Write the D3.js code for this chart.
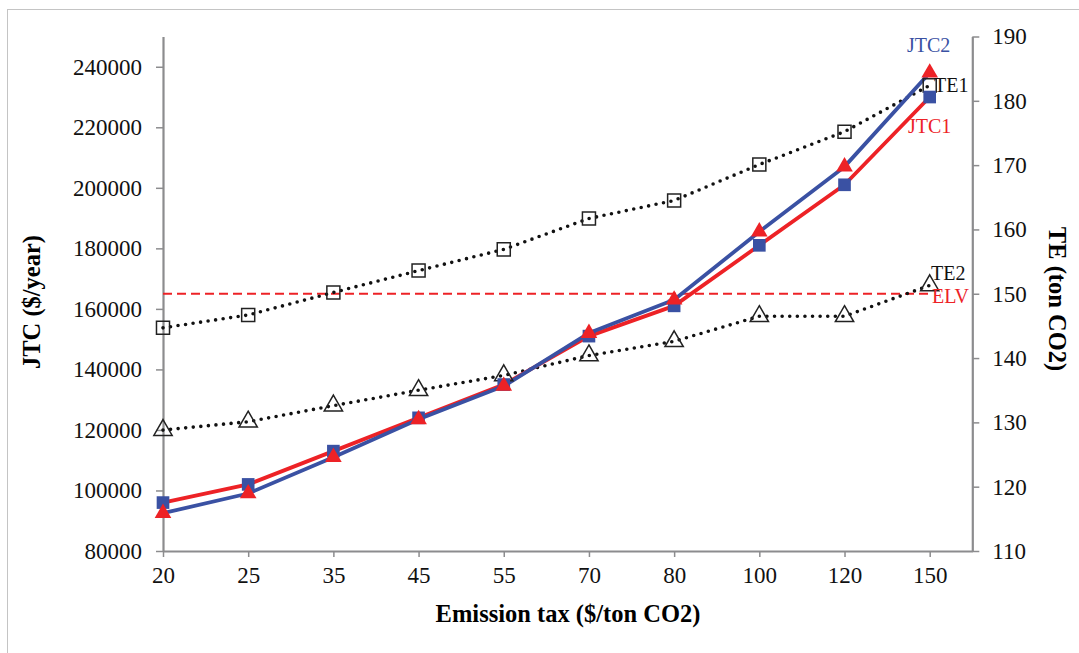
<!DOCTYPE html>
<html>
<head>
<meta charset="utf-8">
<script src="https://cdn.jsdelivr.net/npm/d3@7/dist/d3.min.js"></script>
<style>
  html, body { margin: 0; padding: 0; background: #fff; }
  svg { display: block; }
</style>
</head>
<body>
<svg id="chart" width="1079" height="653"></svg>
<script>
// Emission tax levels ($/ton CO2)
const taxes = [20, 25, 35, 45, 55, 70, 80, 100, 120, 150];
// Joint total cost ($/year)
const jtc1 = [96000, 102000, 113000, 124000, 135000, 151000, 161000, 181000, 201000, 230000];
const jtc2 = [92500, 99000, 111000, 123500, 134500, 152000, 163000, 185500, 207000, 238000];
// Total emissions (ton CO2)
const te1 = [144.7, 146.7, 150.2, 153.6, 156.9, 161.7, 164.5, 170.1, 175.2, 182.4];
const te2 = [128.8, 130.1, 132.6, 135.0, 137.3, 140.4, 142.6, 146.5, 146.5, 151.3];
// Emission limit value (ton CO2)
const elv = 150;
const leftTicks = [80000, 100000, 120000, 140000, 160000, 180000, 200000, 220000, 240000];
const rightTicks = [110, 120, 130, 140, 150, 160, 170, 180, 190];

const RED = "#ed2226";
const BLUE = "#3a51a3";
const AXIS = "#8c8c8e";
const SERIF = "'Liberation Serif', 'Times New Roman', serif";

const svg = d3.select("#chart").attr("font-family", SERIF);
const x0 = 163, x1 = 972.3, yTop = 36.5, yBot = 551;

// outer chart frame
svg.append("rect")
  .attr("x", 7.5).attr("y", 9.5).attr("width", 1200).attr("height", 800)
  .attr("fill", "none").attr("stroke", "#c4c4c4").attr("stroke-width", 1);

const x = d3.scaleLinear().domain([0, taxes.length - 0.5]).range([x0, x1]);
const yL = d3.scaleLinear().domain([80000, 250000]).range([yBot, yTop]);
const yR = d3.scaleLinear().domain([110, 190]).range([yBot, yTop]);

function styleAxis(g) {
  g.attr("font-family", SERIF).attr("font-size", 23);
  g.select(".domain").attr("stroke", AXIS).attr("stroke-width", 2.2);
  g.selectAll(".tick line").attr("stroke", AXIS).attr("stroke-width", 1.5);
  g.selectAll(".tick text").attr("fill", "#111");
}

// bottom axis
svg.append("g").attr("transform", `translate(0,${yBot})`)
  .call(d3.axisBottom(x).tickValues(d3.range(taxes.length))
    .tickFormat(i => taxes[i]).tickSize(6).tickSizeOuter(0).tickPadding(10))
  .call(styleAxis);

// left axis
svg.append("g").attr("transform", `translate(${x0},0)`)
  .call(d3.axisLeft(yL).tickValues(leftTicks).tickFormat(d3.format("d"))
    .tickSize(7).tickSizeOuter(0).tickPadding(14))
  .call(styleAxis);

// right axis
svg.append("g").attr("transform", `translate(${x1},0)`)
  .call(d3.axisRight(yR).tickValues(rightTicks).tickFormat(d3.format("d"))
    .tickSize(7).tickSizeOuter(0).tickPadding(13))
  .call(styleAxis);

// axis titles
svg.append("text").attr("x", 568).attr("y", 622).attr("text-anchor", "middle")
  .attr("font-size", 24.5).attr("font-weight", "bold").text("Emission tax ($/ton CO2)");
svg.append("text").attr("transform", "translate(40,302) rotate(-90)").attr("text-anchor", "middle")
  .attr("font-size", 24.5).attr("font-weight", "bold").text("JTC ($/year)");
svg.append("text").attr("transform", "translate(1049,299) rotate(90)").attr("text-anchor", "middle")
  .attr("font-size", 24.5).attr("font-weight", "bold").text("TE (ton CO2)");

// ELV reference line
svg.append("line")
  .attr("x1", x(0)).attr("x2", x(taxes.length - 1))
  .attr("y1", yR(elv)).attr("y2", yR(elv))
  .attr("stroke", RED).attr("stroke-width", 2.2).attr("stroke-dasharray", "9 5");

// TE dotted lines
const teLine = d3.line().x((d, i) => x(i)).y(d => yR(d));
[te1, te2].forEach(s => {
  svg.append("path").datum(s).attr("d", teLine)
    .attr("fill", "none").attr("stroke", "#111").attr("stroke-width", 3.6)
    .attr("stroke-linecap", "round").attr("stroke-dasharray", "0 7.6");
});

// JTC lines
const jtcLine = d3.line().x((d, i) => x(i)).y(d => yL(d));
svg.append("path").datum(jtc1).attr("d", jtcLine)
  .attr("fill", "none").attr("stroke", RED).attr("stroke-width", 3.8).attr("stroke-linejoin", "round");
svg.append("path").datum(jtc2).attr("d", jtcLine)
  .attr("fill", "none").attr("stroke", BLUE).attr("stroke-width", 3.8).attr("stroke-linejoin", "round");

// markers
const sq = d3.symbol().type(d3.symbolSquare);
const tri = d3.symbol().type(d3.symbolTriangle);

svg.append("g").selectAll("path").data(te1).join("path")
  .attr("transform", (d, i) => `translate(${x(i)},${yR(d)})`)
  .attr("d", sq.size(170)())
  .attr("fill", "none").attr("stroke", "#222").attr("stroke-width", 1.5);
svg.append("g").selectAll("path").data(te2).join("path")
  .attr("transform", (d, i) => `translate(${x(i)},${yR(d)})`)
  .attr("d", tri.size(145)())
  .attr("fill", "none").attr("stroke", "#222").attr("stroke-width", 1.5);
svg.append("g").selectAll("path").data(jtc1).join("path")
  .attr("transform", (d, i) => `translate(${x(i)},${yL(d)})`)
  .attr("d", sq.size(160)())
  .attr("fill", BLUE);
svg.append("g").selectAll("path").data(jtc2).join("path")
  .attr("transform", (d, i) => `translate(${x(i)},${yL(d)})`)
  .attr("d", tri.size(120)())
  .attr("fill", RED);

// series labels
const labels = [
  { t: "JTC2", x: 907, y: 52, c: BLUE },
  { t: "TE1", x: 934, y: 92, c: "#111" },
  { t: "JTC1", x: 908, y: 133, c: RED },
  { t: "TE2", x: 931, y: 280, c: "#111" },
  { t: "ELV", x: 932, y: 303, c: RED }
];
svg.append("g").selectAll("text").data(labels).join("text")
  .attr("x", d => d.x).attr("y", d => d.y).attr("fill", d => d.c)
  .attr("font-size", 20).text(d => d.t);
</script>
</body>
</html>
